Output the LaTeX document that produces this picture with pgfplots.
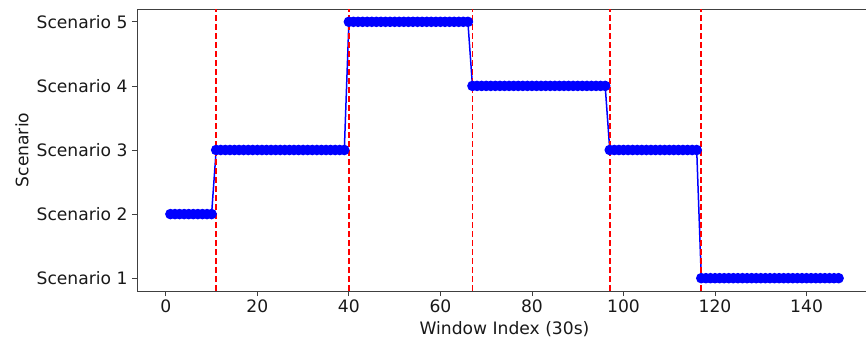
\documentclass[border=0pt]{standalone}
\usepackage{fontspec}
\setmainfont{DejaVu Sans}
\usepackage{pgfplots}
\pgfplotsset{compat=1.18}
\begin{document}
\begin{tikzpicture}
\useasboundingbox (-137bp,-48bp) rectangle (729bp,291bp);
\clip (-137bp,-48bp) rectangle (729bp,291bp);
\begin{axis}[
  at={(0,0)}, anchor=south west,
  scale only axis, width=735bp, height=282bp,
  xmin=-6.3, xmax=154.3, ymin=0.8, ymax=5.2,
  xtick={0,20,...,140},
  ytick={1,2,3,4,5},
  yticklabels={Scenario 1,Scenario 2,Scenario 3,Scenario 4,Scenario 5},
  tick pos=left, tick align=outside,
  major tick length=5bp,
  tick style={black!75, line width=0.8bp},
  axis line style={black!75, line width=0.8bp},
  /pgf/number format/assume math mode=true,
  ticklabel style={font=\fontsize{17.2}{20}\selectfont, text=black!90},
  label style={font=\fontsize{17.2}{20}\selectfont, text=black!90},
  yticklabel style={xshift=-1bp},
  xlabel={Window Index (30s)},
  ylabel={Scenario},
  xlabel style={at={(axis description cs:0.5,-0.1348)}, anchor=center},
  ylabel style={at={(axis description cs:-0.1565,0.5)}, anchor=center},
  clip=false,
]
\addplot[blue, line width=1.5bp, mark=*, mark size=4.5bp, mark options={fill=blue, draw=blue}] coordinates {
(1,2)(2,2)(3,2)(4,2)(5,2)(6,2)(7,2)(8,2)(9,2)(10,2)
(11,3)(12,3)(13,3)(14,3)(15,3)(16,3)(17,3)(18,3)(19,3)(20,3)
(21,3)(22,3)(23,3)(24,3)(25,3)(26,3)(27,3)(28,3)(29,3)(30,3)
(31,3)(32,3)(33,3)(34,3)(35,3)(36,3)(37,3)(38,3)(39,3)
(40,5)(41,5)(42,5)(43,5)(44,5)(45,5)(46,5)(47,5)(48,5)(49,5)
(50,5)(51,5)(52,5)(53,5)(54,5)(55,5)(56,5)(57,5)(58,5)(59,5)
(60,5)(61,5)(62,5)(63,5)(64,5)(65,5)(66,5)
(67,4)(68,4)(69,4)(70,4)(71,4)(72,4)(73,4)(74,4)(75,4)(76,4)
(77,4)(78,4)(79,4)(80,4)(81,4)(82,4)(83,4)(84,4)(85,4)(86,4)
(87,4)(88,4)(89,4)(90,4)(91,4)(92,4)(93,4)(94,4)(95,4)(96,4)
(97,3)(98,3)(99,3)(100,3)(101,3)(102,3)(103,3)(104,3)(105,3)(106,3)
(107,3)(108,3)(109,3)(110,3)(111,3)(112,3)(113,3)(114,3)(115,3)(116,3)
(117,1)(118,1)(119,1)(120,1)(121,1)(122,1)(123,1)(124,1)(125,1)(126,1)
(127,1)(128,1)(129,1)(130,1)(131,1)(132,1)(133,1)(134,1)(135,1)(136,1)
(137,1)(138,1)(139,1)(140,1)(141,1)(142,1)(143,1)(144,1)(145,1)(146,1)
(147,1)
};
\addplot[red, line width=1.8bp, dash pattern=on 6bp off 3bp] coordinates {(11,0.8) (11,5.2)};
\addplot[red, line width=1.8bp, dash pattern=on 6bp off 3bp] coordinates {(40,0.8) (40,5.2)};
\addplot[red, line width=1.8bp, dash pattern=on 6bp off 3bp] coordinates {(67,0.8) (67,5.2)};
\addplot[red, line width=1.8bp, dash pattern=on 6bp off 3bp] coordinates {(97,0.8) (97,5.2)};
\addplot[red, line width=1.8bp, dash pattern=on 6bp off 3bp] coordinates {(117,0.8) (117,5.2)};
\end{axis}
\end{tikzpicture}
\end{document}
